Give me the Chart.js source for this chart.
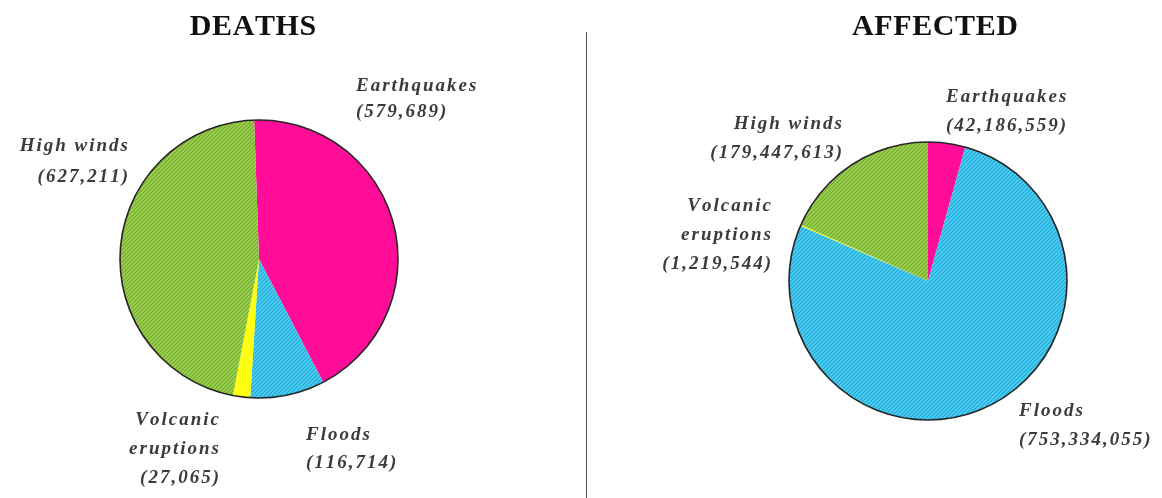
<!DOCTYPE html>
<html>
<head>
<meta charset="utf-8">
<script src="https://cdn.jsdelivr.net/npm/chart.js@4.4.1/dist/chart.umd.min.js"></script>
<style>
  html, body { margin: 0; padding: 0; background: #ffffff; }
  body { width: 1162px; height: 498px; position: relative; overflow: hidden; }
  canvas { position: absolute; left: 0; top: 0; }
  #divider { position: absolute; left: 586px; top: 32px; width: 1px; height: 466px; background: #555555; }
</style>
</head>
<body>
<div id="divider"></div>
<canvas id="deaths" width="1162" height="498"></canvas>
<canvas id="affected" width="1162" height="498"></canvas>
<script>
// Disaster categories (clockwise from 12 o'clock) and their totals
const categories = [['Earthquakes'], ['Floods'], ['Volcanic', 'eruptions'], ['High winds']];
const deaths = [579689, 116714, 27065, 627211];
const affected = [42186559, 753334055, 1219544, 179447613];
const chartTitles = ['DEATHS', 'AFFECTED'];

const sliceColors = ['#ff0d98', '#35c4ef', '#ffff14', '#8cc63c'];
const hatched = [false, true, false, true];

// Fine diagonal hatch texture for the patterned slices
function hatch(ctx, color) {
  const tile = document.createElement('canvas');
  tile.width = tile.height = 4;
  const c = tile.getContext('2d');
  c.fillStyle = color;
  c.fillRect(0, 0, 4, 4);
  c.fillStyle = 'rgba(0,0,0,0.14)';
  for (let i = 0; i < 4; i++) c.fillRect(i, 3 - i, 1, 1);
  c.fillStyle = 'rgba(255,255,255,0.18)';
  for (let i = 0; i < 4; i++) c.fillRect(i, (5 - i) % 4, 1, 1);
  return ctx.createPattern(tile, 'repeat');
}

function fills(ctx) {
  return sliceColors.map((col, i) => hatched[i] ? hatch(ctx, col) : col);
}

// Draw text letter by letter with extra tracking
function spacedText(ctx, text, x, y, align, spacing) {
  const chars = [...text];
  const widths = chars.map(ch => ctx.measureText(ch).width);
  const total = widths.reduce((a, b) => a + b, 0) + spacing * (chars.length - 1);
  let cx = align === 'right' ? x - total : align === 'center' ? x - total / 2 : x;
  chars.forEach((ch, i) => { ctx.fillText(ch, cx, y); cx += widths[i] + spacing; });
}

const fmt = v => '(' + v.toLocaleString('en-US') + ')';

// Outer rim of the pie
const outline = {
  id: 'outline',
  afterDatasetsDraw(chart) {
    const arc = chart.getDatasetMeta(0).data[0];
    const { x, y, outerRadius } = arc.getProps(['x', 'y', 'outerRadius'], true);
    const ctx = chart.ctx;
    ctx.save();
    ctx.beginPath();
    ctx.arc(x, y, outerRadius, 0, Math.PI * 2);
    ctx.lineWidth = 1.6;
    ctx.strokeStyle = '#262626';
    ctx.stroke();
    ctx.restore();
  }
};

// Heading and per-slice captions
const captions = {
  id: 'captions',
  afterDraw(chart, args, opts) {
    const ctx = chart.ctx;
    ctx.save();
    ctx.textBaseline = 'middle';
    ctx.textAlign = 'left';
    ctx.fillStyle = '#111111';
    ctx.font = 'bold 30px "Liberation Serif", "Times New Roman", serif';
    spacedText(ctx, opts.title, opts.titleX, opts.titleY, 'center', 0.6);

    ctx.fillStyle = '#3b3b3b';
    ctx.font = 'italic bold 19px "Liberation Serif", "Times New Roman", serif';
    const values = chart.data.datasets[0].data;
    chart.data.labels.forEach((lines, i) => {
      const p = opts.places[i];
      const rows = [...lines, fmt(values[i])];
      rows.forEach((row, r) => spacedText(ctx, row, p.x, p.y + r * p.lh, p.align, 2));
    });
    ctx.restore();
  }
};

function makePie(id, values, title, layout, rotation) {
  const canvas = document.getElementById(id);
  const ctx = canvas.getContext('2d');
  return new Chart(ctx, {
    type: 'pie',
    data: {
      labels: categories,
      datasets: [{
        data: values,
        backgroundColor: fills(ctx),
        borderWidth: 0,
        hoverOffset: 0
      }]
    },
    options: {
      responsive: false,
      animation: false,
      events: [],
      rotation: rotation,
      layout: { padding: layout.padding },
      plugins: {
        legend: { display: false },
        tooltip: { enabled: false },
        title: { display: false },
        captions: { title: title, titleX: layout.titleX, titleY: layout.titleY, places: layout.places }
      }
    },
    plugins: [outline, captions]
  });
}

makePie('deaths', deaths, chartTitles[0], {
  padding: { left: 120, right: 764, top: 120, bottom: 100 },
  titleX: 253, titleY: 27,
  places: [
    { x: 356, y: 86, lh: 26, align: 'left' },
    { x: 306, y: 435, lh: 28, align: 'left' },
    { x: 219, y: 420, lh: 29, align: 'right' },
    { x: 128, y: 146, lh: 31, align: 'right' }
  ]
}, -2);

makePie('affected', affected, chartTitles[1], {
  padding: { left: 789, right: 95, top: 142, bottom: 78 },
  titleX: 935, titleY: 27,
  places: [
    { x: 946, y: 97, lh: 29, align: 'left' },
    { x: 1019, y: 411, lh: 29, align: 'left' },
    { x: 771, y: 206, lh: 29, align: 'right' },
    { x: 842, y: 124, lh: 29, align: 'right' }
  ]
}, 0);
</script>
</body>
</html>
